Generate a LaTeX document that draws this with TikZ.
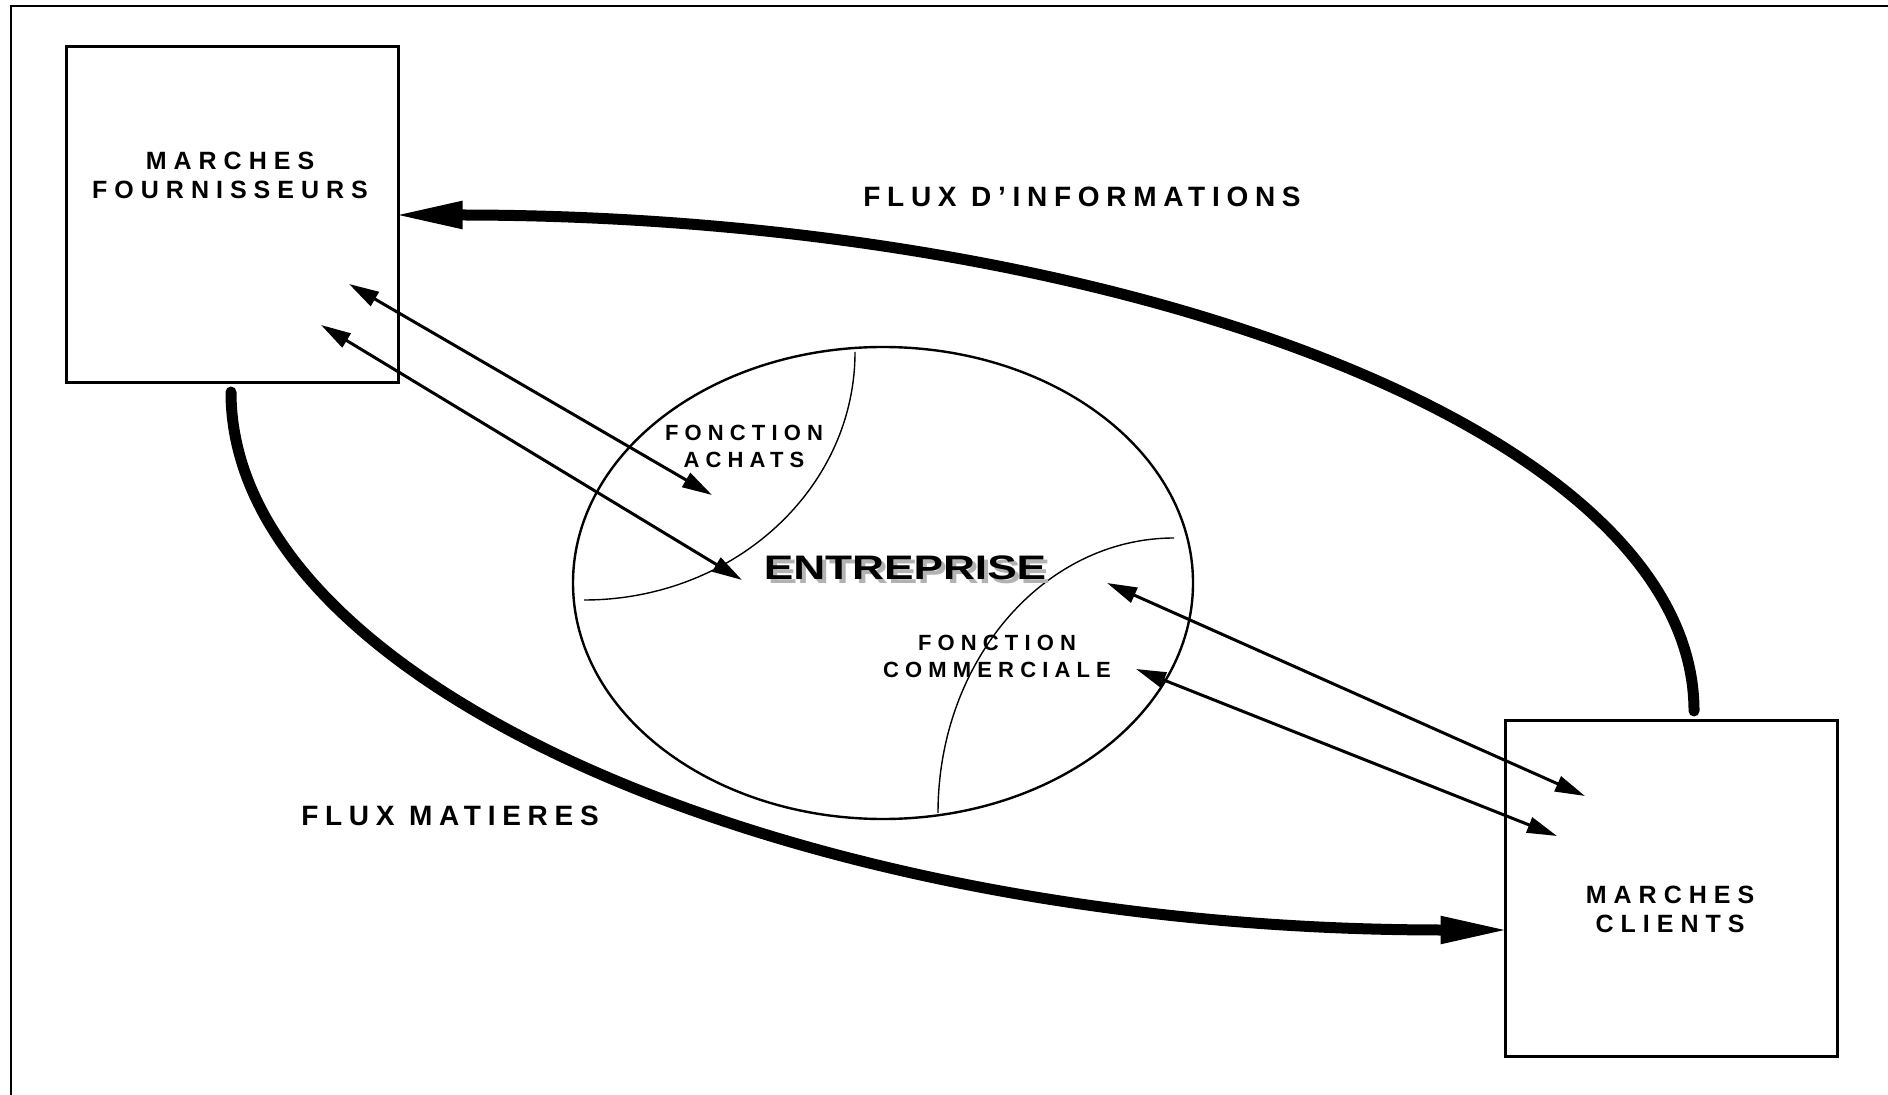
\documentclass[tikz,border=0pt]{standalone}
\usepackage{fontspec}
\setmainfont{Liberation Sans}
\newfontfamily\spacedfont[LetterSpace=28]{Liberation Sans}
\newfontfamily\flowfont[LetterSpace=24]{Liberation Sans}
\usetikzlibrary{arrows.meta,shapes.geometric,positioning}

% firm name with its grey drop shadow
\newcommand{\firmname}[1]{\rlap{\kern2pt\raisebox{-2pt}{\textcolor{gray!60}{\scalebox{1.3}[1]{#1}}}}\scalebox{1.3}[1]{#1}}

\tikzset{
  market/.style={draw, line width=1.5pt, minimum width=166pt, minimum height=168pt, inner sep=0pt},
  boxlabel/.style={align=center, font=\spacedfont\bfseries\fontsize{12.5}{14.5}\selectfont},
  flowlabel/.style={font=\flowfont\bfseries\fontsize{14}{16}\selectfont},
  funclabel/.style={align=center, font=\spacedfont\bfseries\fontsize{11}{13.5}\selectfont},
  firmlabel/.style={font=\bfseries\fontsize{17}{19}\selectfont},
  bigflow/.style={line width=5.5pt, line cap=round, shorten >=-3.5pt, -{Triangle[length=35pt,width=12.5pt]}},
  thinflow/.style={line width=1.5pt, {Triangle[length=15pt,width=8pt]}-{Triangle[length=15pt,width=8pt]}},
}

\begin{document}
\begin{tikzpicture}[x=0.5pt,y=-0.5pt]
  \useasboundingbox (0,0) rectangle (1888,1095);
  \draw[line width=1pt] (11,1095) -- (11,6) -- (1888,6); % Draw page frame

  % Draw the two markets
  \node[market] (fourn) at (232,215) {};
  \node[market] (clients) at (1671,888) {};
  \node[boxlabel] (fourn-txt) at (230,175) {MARCHES\\FOURNISSEURS};
  \node[boxlabel] (clients-txt) at (1670,909) {MARCHES\\CLIENTS};

  % Draw the firm and its two functions
  \node[draw, ellipse, line width=1.2pt, minimum width=310pt, minimum height=236pt] (firm) at (883,583) {};
  \draw[line width=0.7pt] (855,352) arc[start angle=0, end angle=90, x radius=271, y radius=248]; % achats
  \draw[line width=0.7pt] (1174,538) arc[start angle=-90, end angle=-180, x radius=236, y radius=275]; % commerciale
  \node[funclabel] (achats) at (744,446) {FONCTION\\ACHATS};
  \node[funclabel] (commerciale) at (997,656) {FONCTION\\COMMERCIALE};
  \node[firmlabel] (firm-txt) at (905,570) {\firmname{ENTREPRISE}};

  %Draw the two big flows
  \coordinate (info-start) at (1694,711);
  \coordinate (mat-start) at (231,392);
  \draw[bigflow] (info-start) .. controls (1694,425) and (1100,215) .. (fourn.east);
  \draw[bigflow] (mat-start) .. controls (231,689) and (801,930) .. (clients.west |- 0,930);
  \node[flowlabel] (info-txt) at (1082,197) {FLUX D’INFORMATIONS};
  \node[flowlabel] (mat-txt) at (450,816) {FLUX MATIERES};

  %Draw exchanges with the functions
  \coordinate (a1) at (349,284);
  \coordinate (a2) at (712,495);
  \coordinate (a3) at (321,325);
  \coordinate (a4) at (742,580);
  \coordinate (b1) at (1107,583);
  \coordinate (b2) at (1585,796);
  \coordinate (b3) at (1136,669);
  \coordinate (b4) at (1557,836);
  \draw[thinflow] (a1) -- (a2);
  \draw[thinflow] (a3) -- (a4);
  \draw[thinflow] (b1) -- (b2);
  \draw[thinflow] (b3) -- (b4);
\end{tikzpicture}
\end{document}
